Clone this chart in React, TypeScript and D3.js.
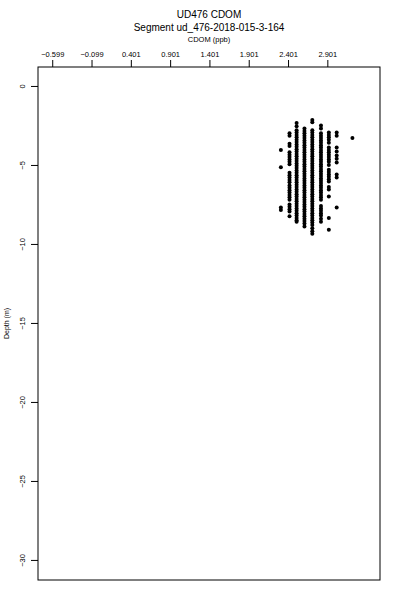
import { useEffect, useRef } from 'react';
import * as d3 from 'd3';

const WIDTH = 400;
const HEIGHT = 600;
const PLOT = { left: 38, right: 380, top: 67, bottom: 580 };

const TITLE = 'UD476 CDOM';
const SUBTITLE = 'Segment ud_476-2018-015-3-164';
const X_LABEL = 'CDOM (ppb)';
const Y_LABEL = 'Depth (m)';

const X_TICKS = [-0.599, -0.099, 0.401, 0.901, 1.401, 1.901, 2.401, 2.901];
const Y_TICKS = [0, -5, -10, -15, -20, -25, -30];

// CDOM value of each column of samples
const CDOM_LEVELS = [2.31, 2.42, 2.51, 2.61, 2.71, 2.82, 2.92, 3.02, 3.22];

// depths (m) sampled at each CDOM level
const DEPTHS_231 = [-4.05, -5.15, -7.7, -7.85];
const DEPTHS_242 = [-3.0, -3.15, -3.65, -3.8, -4.2, -4.35, -4.5, -4.65, -4.8, -4.95, -5.5, -5.65, -5.8, -5.95, -6.1, -6.3, -6.45, -6.6, -6.75, -6.9, -7.05, -7.2, -7.5, -7.65, -7.8, -7.95, -8.25];
const DEPTHS_251 = [-2.35, -2.55, -2.8, -2.95, -3.1, -3.25, -3.4, -3.55, -3.7, -3.85, -4.0, -4.15, -4.3, -4.45, -4.6, -4.75, -4.9, -5.05, -5.2, -5.35, -5.5, -5.65, -5.8, -5.95, -6.1, -6.25, -6.4, -6.55, -6.7, -6.85, -7.0, -7.15, -7.3, -7.45, -7.6, -7.75, -7.9, -8.05, -8.2, -8.35, -8.5, -8.6];
const DEPTHS_261 = [-2.7, -2.85, -3.0, -3.15, -3.3, -3.45, -3.6, -3.75, -3.9, -4.05, -4.2, -4.35, -4.5, -4.65, -4.8, -4.95, -5.1, -5.25, -5.4, -5.55, -5.7, -5.85, -6.0, -6.15, -6.3, -6.45, -6.6, -6.75, -6.9, -7.05, -7.2, -7.35, -7.5, -7.65, -7.8, -7.95, -8.1, -8.25, -8.4, -8.55, -8.7, -8.9];
const DEPTHS_271 = [-2.15, -2.3, -2.8, -2.95, -3.1, -3.25, -3.4, -3.55, -3.7, -3.85, -4.0, -4.15, -4.3, -4.45, -4.6, -4.75, -4.9, -5.05, -5.2, -5.35, -5.5, -5.65, -5.8, -5.95, -6.1, -6.25, -6.4, -6.55, -6.7, -6.85, -7.0, -7.15, -7.3, -7.45, -7.6, -7.75, -7.9, -8.05, -8.2, -8.35, -8.5, -8.65, -8.8, -9.0, -9.2, -9.35];
const DEPTHS_282 = [-2.5, -2.7, -3.0, -3.15, -3.3, -3.45, -3.6, -3.75, -3.9, -4.05, -4.2, -4.35, -4.5, -4.65, -4.8, -4.95, -5.1, -5.25, -5.4, -5.55, -5.7, -5.85, -6.0, -6.15, -6.3, -6.45, -6.6, -6.75, -6.9, -7.05, -7.2, -7.6, -7.75, -7.9, -8.05, -8.2, -8.4, -8.6];
const DEPTHS_292 = [-2.95, -3.1, -3.25, -3.4, -3.6, -3.9, -4.05, -4.2, -4.35, -4.5, -4.65, -4.8, -5.0, -5.3, -5.45, -5.6, -5.75, -5.9, -6.05, -6.4, -6.55, -7.0, -8.35, -9.1];
const DEPTHS_302 = [-2.95, -3.15, -3.9, -4.15, -4.4, -4.6, -4.85, -5.6, -5.8, -7.7];
const DEPTHS_322 = [-3.3];

const COLUMNS = [DEPTHS_231, DEPTHS_242, DEPTHS_251, DEPTHS_261, DEPTHS_271, DEPTHS_282, DEPTHS_292, DEPTHS_302, DEPTHS_322];

const FONT = '"Liberation Sans", Arial, sans-serif';

export default function App() {
  const svgRef = useRef<SVGSVGElement>(null);

  useEffect(() => {
    const svg = d3.select(svgRef.current);
    svg.selectAll('*').remove();

    const x = d3.scaleLinear().domain([-0.78, 3.571]).range([PLOT.left, PLOT.right]);
    const y = d3.scaleLinear().domain([1.2, -31.27]).range([PLOT.top, PLOT.bottom]);

    // box
    svg.append('rect')
      .attr('x', PLOT.left).attr('y', PLOT.top)
      .attr('width', PLOT.right - PLOT.left).attr('height', PLOT.bottom - PLOT.top)
      .attr('fill', 'none').attr('stroke', '#000').attr('stroke-width', 1);

    // top axis
    const xAxis = svg.append('g')
      .attr('transform', `translate(0,${PLOT.top})`)
      .call(d3.axisTop(x).tickValues(X_TICKS).tickFormat(d3.format('.3f')).tickSize(7).tickPadding(3));
    xAxis.select('.domain').attr('stroke', 'none');
    xAxis.selectAll('text').style('font-family', FONT).style('font-size', '7.5px').style('fill', '#000');

    // left axis, labels rotated
    const yAxis = svg.append('g')
      .attr('transform', `translate(${PLOT.left},0)`)
      .call(d3.axisLeft(y).tickValues(Y_TICKS).tickFormat(d3.format('d')).tickSize(7));
    yAxis.select('.domain').attr('stroke', 'none');
    yAxis.selectAll('.tick text')
      .style('font-family', FONT).style('font-size', '7.5px').style('fill', '#000')
      .attr('text-anchor', 'middle')
      .attr('x', 0).attr('y', 0).attr('dy', 0)
      .attr('dominant-baseline', 'middle')
      .attr('transform', 'translate(-15,0) rotate(-90)');

    // points
    const points = CDOM_LEVELS.flatMap((c, i) => COLUMNS[i].map((d) => ({ c, d })));
    svg.append('g')
      .selectAll('circle')
      .data(points)
      .join('circle')
      .attr('cx', (p) => x(p.c))
      .attr('cy', (p) => y(p.d))
      .attr('r', 2)
      .attr('fill', '#000');

    // titles
    svg.append('text').attr('x', 209).attr('y', 18).attr('text-anchor', 'middle')
      .style('font-family', FONT).style('font-size', '10px').text(TITLE);
    svg.append('text').attr('x', 209).attr('y', 31).attr('text-anchor', 'middle')
      .style('font-family', FONT).style('font-size', '10px').text(SUBTITLE);
    svg.append('text').attr('x', 209).attr('y', 42).attr('text-anchor', 'middle')
      .style('font-family', FONT).style('font-size', '7.5px').text(X_LABEL);
    svg.append('text').attr('transform', `translate(9,${(PLOT.top + PLOT.bottom) / 2}) rotate(-90)`)
      .attr('text-anchor', 'middle')
      .style('font-family', FONT).style('font-size', '7px').text(Y_LABEL);
  }, []);

  return (
    <svg
      ref={svgRef}
      width={WIDTH}
      height={HEIGHT}
      style={{ position: 'absolute', left: 0, top: 0, background: '#fff' }}
    />
  );
}
